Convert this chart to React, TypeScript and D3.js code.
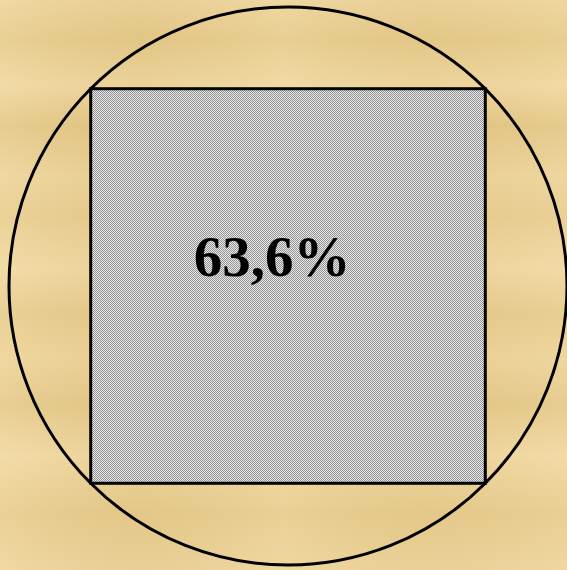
import { useEffect, useRef } from 'react';
import * as d3 from 'd3';

// shape: unit circle and the square inscribed in it
const shapes = ['circle', 'square'];
const circleRadius = [1];
const squareHalfSide = [Math.SQRT1_2];
const ratioLabels = ['63,6%'];
const ratioValues = [63.6];

// parchment stripes (vertical position in 0..1, colour)
const stripeStops = [0, 0.07, 0.15, 0.22, 0.31, 0.38, 0.47, 0.55, 0.63, 0.71, 0.8, 0.9, 1];
const stripeColors = ['#edd49c', '#e5ca8a', '#efd7a0', '#e3c686', '#ecd39a', '#e7cc8f',
  '#f0d8a2', '#e6ca8c', '#edd39a', '#e4c889', '#f0d8a2', '#e7cb8d', '#edd49c'];

const App = () => {
  const ref = useRef<SVGSVGElement | null>(null);

  useEffect(() => {
    const svg = d3.select(ref.current);
    svg.selectAll('*').remove();

    const width = 567;
    const height = 570;

    const x = d3.scaleLinear().domain([-1, 1]).range([9, 567]);
    const y = d3.scaleLinear().domain([1, -1]).range([7, 565]);

    const defs = svg.append('defs');

    const grad = defs.append('linearGradient')
      .attr('id', 'parchment')
      .attr('x1', 0).attr('y1', 0).attr('x2', 0).attr('y2', 1);
    grad.selectAll('stop')
      .data(stripeStops)
      .enter().append('stop')
      .attr('offset', d => d)
      .attr('stop-color', (_, i) => stripeColors[i]);

    const grad2 = defs.append('linearGradient')
      .attr('id', 'parchmentH')
      .attr('x1', 0).attr('y1', 0).attr('x2', 1).attr('y2', 0);
    [['#fff2c8', 0.15], ['#b89650', 0.08], ['#fff2c8', 0.12], ['#b89650', 0.06], ['#fff2c8', 0.1]]
      .forEach((s, i, arr) => {
        grad2.append('stop')
          .attr('offset', i / (arr.length - 1))
          .attr('stop-color', s[0] as string)
          .attr('stop-opacity', s[1] as number);
      });

    const pat = defs.append('pattern')
      .attr('id', 'hatch')
      .attr('width', 2).attr('height', 2)
      .attr('patternUnits', 'userSpaceOnUse');
    pat.append('rect').attr('width', 2).attr('height', 2).attr('fill', '#e8e8e8');
    pat.append('rect').attr('width', 1).attr('height', 1).attr('fill', '#939393');
    pat.append('rect').attr('x', 1).attr('y', 1).attr('width', 1).attr('height', 1).attr('fill', '#939393');

    svg.append('rect').attr('width', width).attr('height', height).attr('fill', 'url(#parchment)');
    svg.append('rect').attr('width', width).attr('height', height).attr('fill', 'url(#parchmentH)');

    svg.selectAll('.circ')
      .data(circleRadius)
      .enter().append('ellipse')
      .attr('class', 'circ')
      .attr('cx', x(0))
      .attr('cy', y(0))
      .attr('rx', d => x(d) - x(0))
      .attr('ry', d => y(-d) - y(0))
      .attr('fill', 'none')
      .attr('stroke', '#000')
      .attr('stroke-width', 3);

    svg.selectAll('.sq')
      .data(squareHalfSide)
      .enter().append('rect')
      .attr('class', 'sq')
      .attr('x', d => x(-d))
      .attr('y', d => y(d))
      .attr('width', d => x(d) - x(-d))
      .attr('height', d => y(-d) - y(d))
      .attr('fill', 'url(#hatch)')
      .attr('stroke', '#000')
      .attr('stroke-width', 3);

    svg.selectAll('.lbl')
      .data(ratioValues)
      .enter().append('text')
      .attr('class', 'lbl')
      .attr('x', x(-0.057))
      .attr('y', y(0.035))
      .attr('text-anchor', 'middle')
      .attr('font-family', '"Liberation Serif", "Times New Roman", serif')
      .attr('font-weight', 'bold')
      .attr('font-size', 57)
      .attr('fill', '#000')
      .text((_, i) => ratioLabels[i]);

    svg.attr('data-shapes', shapes.join(','));
  }, []);

  return (
    <svg ref={ref} width={567} height={570}
      style={{ position: 'fixed', left: 0, top: 0, display: 'block' }} />
  );
};

export default App;
